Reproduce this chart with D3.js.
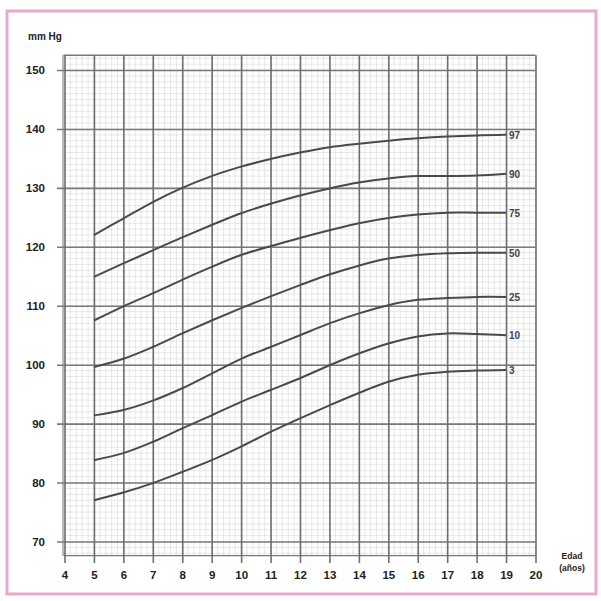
<!DOCTYPE html>
<html>
<head>
<meta charset="utf-8">
<script src="https://cdn.jsdelivr.net/npm/d3@7"></script>
<style>
  body { margin: 0; background: #fff; }
  svg text { font-family: "Liberation Sans", Arial, sans-serif; font-weight: bold; }
</style>
</head>
<body>
<div id="chart"></div>
<script>
// ages (years) and blood pressure percentiles
var ages = [5, 6, 7, 8, 9, 10, 11, 12, 13, 14, 15, 16, 17, 18, 19];
var p97 = [122.0, 124.8, 127.6, 130.0, 132.0, 133.6, 134.9, 136.0, 136.9, 137.5, 138.0, 138.4, 138.7, 138.9, 139.0];
var p90 = [114.9, 117.2, 119.4, 121.6, 123.7, 125.7, 127.3, 128.7, 129.9, 130.9, 131.6, 132.0, 132.0, 132.1, 132.4];
var p75 = [107.5, 109.9, 112.1, 114.4, 116.6, 118.6, 120.1, 121.5, 122.8, 124.0, 124.9, 125.5, 125.8, 125.8, 125.8];
var p50 = [99.6, 101.0, 103.0, 105.3, 107.5, 109.6, 111.6, 113.5, 115.3, 116.8, 118.0, 118.6, 118.9, 119.0, 119.0];
var p25 = [91.4, 92.3, 93.9, 96.0, 98.5, 101.0, 103.0, 105.0, 107.0, 108.7, 110.1, 111.0, 111.3, 111.5, 111.5];
var p10 = [83.8, 85.0, 86.9, 89.2, 91.4, 93.7, 95.7, 97.7, 99.9, 101.9, 103.6, 104.8, 105.3, 105.2, 105.0];
var p3 = [77.0, 78.3, 79.9, 81.8, 83.8, 86.1, 88.6, 90.9, 93.1, 95.2, 97.1, 98.3, 98.8, 99.0, 99.1];
var seriesNames = ["97", "90", "75", "50", "25", "10", "3"];
var xTicks = [4, 5, 6, 7, 8, 9, 10, 11, 12, 13, 14, 15, 16, 17, 18, 19, 20];
var yTicks = [70, 80, 90, 100, 110, 120, 130, 140, 150];

(function() {
  var width = 601, height = 601;
  var series = [p97, p90, p75, p50, p25, p10, p3];

  var svg = d3.select("#chart").append("svg")
      .attr("width", width)
      .attr("height", height);

  // pink frame round the figure
  svg.append("rect")
    .attr("x", 7).attr("y", 11)
    .attr("width", 589).attr("height", 583)
    .attr("fill", "#fff")
    .attr("stroke", "#e6aacd")
    .attr("stroke-width", 3);

  var x = d3.scaleLinear().domain([4, 20]).range([64.5, 535.5]);
  var y = d3.scaleLinear().domain([70, 150]).range([541.5, 70]);

  var yTop = 152.5, yBottom = 67.6;

  // fine millimetre grid
  var fine = svg.append("g").attr("class", "fine");
  d3.range(4, 20.001, 0.2).forEach(function(v) {
    fine.append("line")
      .attr("x1", x(v)).attr("x2", x(v))
      .attr("y1", y(yTop)).attr("y2", y(yBottom))
      .attr("stroke", "#d6d6d6").attr("stroke-width", 0.6);
  });
  d3.range(68, 153, 1).forEach(function(v) {
    fine.append("line")
      .attr("x1", x(4)).attr("x2", x(20))
      .attr("y1", y(v)).attr("y2", y(v))
      .attr("stroke", "#d6d6d6").attr("stroke-width", 0.6);
  });

  // outer edges of the grid
  svg.append("line")
    .attr("x1", x(4) - 1).attr("x2", x(20))
    .attr("y1", y(yTop)).attr("y2", y(yTop))
    .attr("stroke", "#777").attr("stroke-width", 1.4);
  svg.append("line")
    .attr("x1", x(4) - 1).attr("x2", x(20))
    .attr("y1", y(yBottom)).attr("y2", y(yBottom))
    .attr("stroke", "#777").attr("stroke-width", 1.4);
  svg.append("line")
    .attr("x1", x(4) - 1.5).attr("x2", x(4) - 1.5)
    .attr("y1", y(yTop)).attr("y2", y(yBottom))
    .attr("stroke", "#888").attr("stroke-width", 1.2);

  // y axis: major horizontal lines reaching past the left edge
  var yAxis = svg.append("g")
    .attr("transform", "translate(57,0)")
    .call(d3.axisLeft(y).tickValues(yTicks).tickSize(-(x(20) - 57)).tickPadding(12));
  yAxis.select(".domain").remove();
  yAxis.selectAll(".tick line").attr("stroke", "#7a7a7a").attr("stroke-width", 1.6);
  yAxis.selectAll(".tick text")
    .attr("fill", "#222").style("font-size", "11.5px");

  // x axis: major vertical lines reaching below the bottom edge
  var xAxis = svg.append("g")
    .attr("transform", "translate(0,563)")
    .call(d3.axisBottom(x).tickValues(xTicks).tickSize(-(563 - y(yTop))).tickPadding(8));
  xAxis.select(".domain").remove();
  xAxis.selectAll(".tick line").attr("stroke", "#6e6e6e").attr("stroke-width", 1.6);
  xAxis.selectAll(".tick text")
    .attr("fill", "#222").style("font-size", "11.5px");

  // percentile curves
  var line = d3.line()
    .x(function(d, i) { return x(ages[i]); })
    .y(function(d) { return y(d); })
    .curve(d3.curveCatmullRom.alpha(0.5));

  svg.append("g").selectAll("path")
    .data(series)
    .enter()
    .append("path")
    .attr("d", line)
    .attr("fill", "none")
    .attr("stroke", "#4a4a4a")
    .attr("stroke-width", 2);

  svg.append("g").selectAll("text")
    .data(series)
    .enter()
    .append("text")
    .attr("x", x(19) + 3)
    .attr("y", function(d) { return y(d[d.length - 1]) + 4; })
    .attr("fill", "#444")
    .style("font-size", "10px")
    .text(function(d, i) { return seriesNames[i]; });

  // axis titles
  svg.append("text")
    .attr("x", 28).attr("y", 40)
    .attr("fill", "#222")
    .style("font-size", "10px")
    .text("mm Hg");

  svg.append("text")
    .attr("x", 572).attr("y", 559)
    .attr("text-anchor", "middle")
    .attr("fill", "#222")
    .style("font-size", "8.5px")
    .text("Edad");
  svg.append("text")
    .attr("x", 572).attr("y", 571)
    .attr("text-anchor", "middle")
    .attr("fill", "#222")
    .style("font-size", "8.5px")
    .text("(años)");
})();
</script>
</body>
</html>
